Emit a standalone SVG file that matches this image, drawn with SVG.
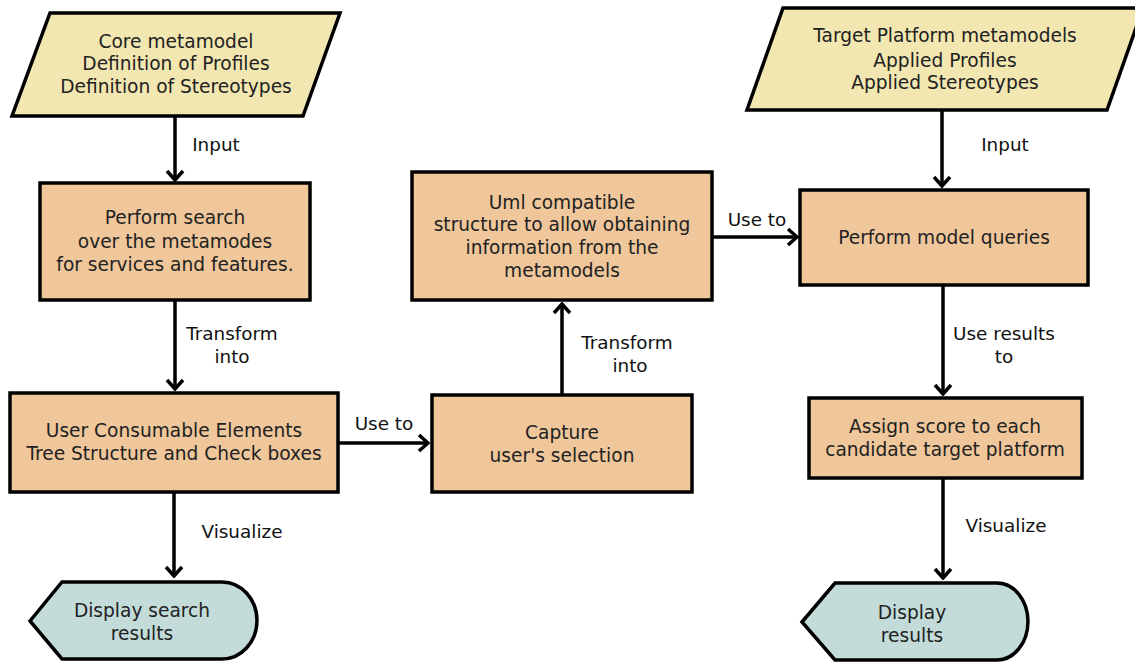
<svg xmlns="http://www.w3.org/2000/svg" width="1135" height="662" viewBox="0 0 1135 662">
  <style>
    .io { fill: #f3e7b1; stroke: #000; stroke-width: 3.5; stroke-linejoin: miter; }
    .proc { fill: #f0c79b; stroke: #000; stroke-width: 3.5; }
    .disp { fill: #c3dcda; stroke: #000; stroke-width: 3.5; }
    .t { font-family: "DejaVu Sans", "Noto Sans", sans-serif; font-size: 18.6px; fill: #222; text-anchor: middle; }
    .lbl { font-family: "DejaVu Sans", "Noto Sans", sans-serif; font-size: 18.4px; fill: #111; text-anchor: middle; }
    .edge { fill: none; stroke: #000; stroke-width: 3.5; }
  </style>
  <defs>
    <marker id="arrow" markerUnits="userSpaceOnUse" viewBox="-14 -12 16 24" refX="0" refY="0" markerWidth="16" markerHeight="24" orient="auto">
      <path d="M -9 -8 L 0 0 L -9 8" fill="none" stroke="#000" stroke-width="3.5"/>
    </marker>
  </defs>

  <rect width="1135" height="662" fill="#fff"/>

  <!-- connectors -->
  <g id="connectors">
    <line class="edge" x1="175" y1="116" x2="175" y2="180" marker-end="url(#arrow)"/>
    <text class="lbl" x="216" y="151">Input</text>

    <line class="edge" x1="175" y1="300" x2="175" y2="389" marker-end="url(#arrow)"/>
    <text class="lbl" x="232" y="340">Transform</text>
    <text class="lbl" x="232" y="363">into</text>

    <line class="edge" x1="338" y1="443" x2="428" y2="443" marker-end="url(#arrow)"/>
    <text class="lbl" x="384" y="430">Use to</text>

    <line class="edge" x1="562" y1="395" x2="562" y2="304" marker-end="url(#arrow)"/>
    <text class="lbl" x="627" y="349">Transform</text>
    <text class="lbl" x="630" y="372">into</text>

    <line class="edge" x1="713" y1="237" x2="797" y2="237" marker-end="url(#arrow)"/>
    <text class="lbl" x="757" y="226">Use to</text>

    <line class="edge" x1="942" y1="110" x2="942" y2="186" marker-end="url(#arrow)"/>
    <text class="lbl" x="1005" y="151">Input</text>

    <line class="edge" x1="943" y1="285" x2="943" y2="394" marker-end="url(#arrow)"/>
    <text class="lbl" x="1004" y="340">Use results</text>
    <text class="lbl" x="1004" y="363">to</text>

    <line class="edge" x1="174" y1="492" x2="174" y2="576" marker-end="url(#arrow)"/>
    <text class="lbl" x="242" y="538">Visualize</text>

    <line class="edge" x1="943" y1="478" x2="943" y2="578" marker-end="url(#arrow)"/>
    <text class="lbl" x="1006" y="532">Visualize</text>
  </g>

  <!-- input: core metamodel -->
  <g id="core-metamodel">
    <polygon class="io" points="50,13 340,13 303,116 12,116"/>
    <text class="t" x="176" y="48">Core metamodel</text>
    <text class="t" x="176" y="70">Definition of Profiles</text>
    <text class="t" x="176" y="93">Definition of Stereotypes</text>
  </g>

  <!-- input: target platform -->
  <g id="target-platform">
    <polygon class="io" points="783,8 1143,8 1107,110 747,110"/>
    <text class="t" x="945" y="42">Target Platform metamodels</text>
    <text class="t" x="945" y="67">Applied Profiles</text>
    <text class="t" x="945" y="89">Applied Stereotypes</text>
  </g>

  <g id="perform-search">
    <rect class="proc" x="40" y="183" width="270" height="117"/>
    <text class="t" x="175" y="224">Perform search</text>
    <text class="t" x="175" y="248">over the metamodes</text>
    <text class="t" x="175" y="271">for services and features.</text>
  </g>

  <g id="user-consumable">
    <rect class="proc" x="10" y="393" width="328" height="99"/>
    <text class="t" x="174" y="437">User Consumable Elements</text>
    <text class="t" x="174" y="460">Tree Structure and Check boxes</text>
  </g>

  <g id="capture-selection">
    <rect class="proc" x="432" y="395" width="260" height="97"/>
    <text class="t" x="562" y="439">Capture</text>
    <text class="t" x="562" y="462">user's selection</text>
  </g>

  <g id="uml-structure">
    <rect class="proc" x="412" y="172" width="300" height="128"/>
    <text class="t" x="562" y="209">Uml compatible</text>
    <text class="t" x="562" y="231">structure to allow obtaining</text>
    <text class="t" x="562" y="254">information from the</text>
    <text class="t" x="562" y="277">metamodels</text>
  </g>

  <g id="model-queries">
    <rect class="proc" x="800" y="190" width="288" height="95"/>
    <text class="t" x="944" y="244">Perform model queries</text>
  </g>

  <g id="assign-score">
    <rect class="proc" x="809" y="398" width="273" height="80"/>
    <text class="t" x="945" y="433">Assign score to each</text>
    <text class="t" x="945" y="456">candidate target platform</text>
  </g>

  <g id="display-search">
    <path class="disp" d="M 30 621 L 62 582 L 222 582 A 35 38.5 0 0 1 222 659 L 62 659 Z"/>
    <text class="t" x="142" y="617">Display search</text>
    <text class="t" x="142" y="640">results</text>
  </g>

  <g id="display-results">
    <path class="disp" d="M 802 622 L 835 583 L 997 583 A 31 38.5 0 0 1 997 660 L 835 660 Z"/>
    <text class="t" x="912" y="619">Display</text>
    <text class="t" x="912" y="642">results</text>
  </g>
</svg>
